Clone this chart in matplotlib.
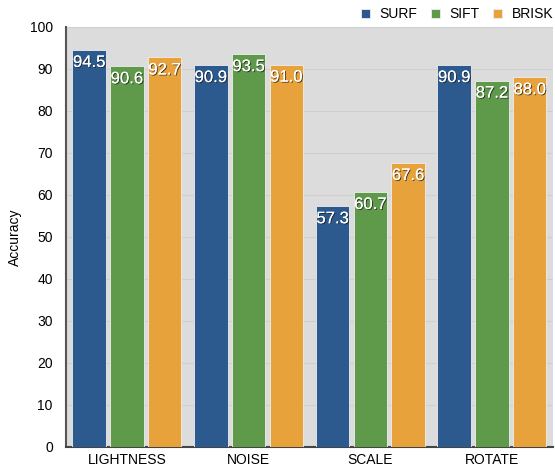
import numpy as np
import matplotlib
matplotlib.use('Agg')
import matplotlib.pyplot as plt
import matplotlib.patheffects as pe

plt.rcParams['font.family'] = ['Liberation Sans', 'DejaVu Sans']

# Du lieu
categories = ["LIGHTNESS", "NOISE", "SCALE", "ROTATE"]
series_names = ["SURF", "SIFT", "BRISK"]
surf = [94.5, 90.9, 57.3, 90.9]
sift = [90.6, 93.5, 60.7, 87.2]
brisk = [92.7, 91.0, 67.6, 88.0]
colors = ["#2d5a8e", "#5e9a49", "#e8a23c"]

fig = plt.figure(figsize=(5.55, 4.7), dpi=100)
ax = fig.add_axes([0.119, 0.049, 0.877, 0.894])
ax.set_facecolor("#dcdcdc")

x = np.arange(len(categories))
width = 0.275
offsets = [-0.31, 0.0, 0.31]
label_fx = [pe.withSimplePatchShadow(offset=(0.7, -0.7), shadow_rgbFace="#1a1a1a", alpha=0.75),
            pe.Normal()]

for vals, name, col, off in zip([surf, sift, brisk], series_names, colors, offsets):
    bars = ax.bar(x + off, vals, width, color=col, edgecolor="#eeeeee",
                  linewidth=0.6, label=name, zorder=3)
    for b, v in zip(bars, vals):
        t = ax.text(b.get_x() + b.get_width() / 2, v - 1.2, f"{v:.1f}",
                    ha="center", va="top", color="white", fontsize=12, zorder=4)
        t.set_path_effects(label_fx)

ax.set_xlim(-0.5, 3.5)
ax.set_ylim(0, 100)
ax.set_yticks(np.arange(0, 101, 10))
ax.set_xticks(x)
ax.set_xticklabels(categories)
ax.tick_params(axis="both", length=0, labelsize=10, colors="black")
ax.tick_params(axis="y", pad=9.5)
ax.tick_params(axis="x", pad=4)
ax.grid(axis="y", color="#cfcfcf", linewidth=0.8, zorder=0)
ax.set_axisbelow(True)

for s in ["top", "right"]:
    ax.spines[s].set_visible(False)
ax.spines["left"].set_color("#555555")
ax.spines["left"].set_linewidth(1.5)
ax.spines["bottom"].set_color("#444444")
ax.spines["bottom"].set_linewidth(1.5)

ax.set_ylabel("Accuracy", fontsize=10)
ax.yaxis.set_label_coords(-0.09, 0.5)

ax.legend(loc="lower right", bbox_to_anchor=(1.012, 1.0), ncol=3, frameon=False,
          fontsize=10, handlelength=0.6, handleheight=0.6, handletextpad=0.7,
          columnspacing=1.0, borderaxespad=0.0)

fig.savefig("out.png", dpi=100)
